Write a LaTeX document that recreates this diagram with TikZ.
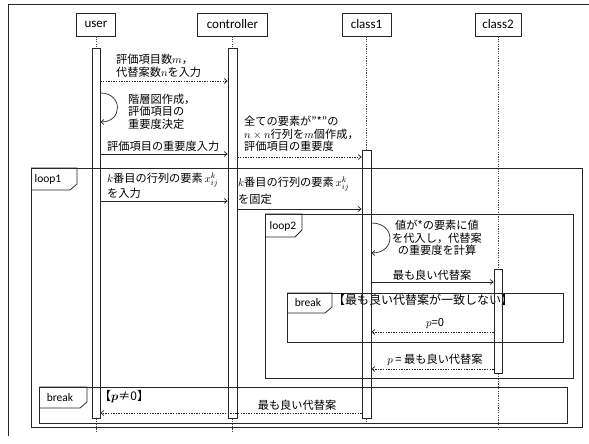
\documentclass[tikz,border=0pt]{standalone}
\usepackage{amsmath}
\usepackage{fontspec}
\setmainfont{Carlito}
\newfontfamily\jp{Noto Sans CJK JP}
\usetikzlibrary{arrows.meta}
\begin{document}
\begin{tikzpicture}[x=1pt,y=-1pt,
  frame/.style={draw=black!85, line width=0.8pt},
  head/.style={draw=black!85, line width=0.7pt, minimum height=23pt, inner sep=2pt, font=\fontsize{13}{14}\selectfont},
  life/.style={draw=black!75, line width=0.7pt, dash pattern=on 1.2pt off 1.2pt},
  bar/.style={draw=black!85, line width=0.7pt, inner sep=0pt},
  msg/.style={draw=black!85, line width=0.7pt, -{Straight Barb[length=3pt,width=5pt]}},
  ret/.style={msg, dash pattern=on 1.4pt off 1.2pt},
  jtext/.style={font=\jp\fontsize{11.2}{12.5}\selectfont, inner sep=0pt, align=left},
  tag/.style={font=\fontsize{11.5}{12}\selectfont, inner sep=0pt},
  guard/.style={font=\jp\fontsize{12}{14}\selectfont, inner sep=0pt},
]
\useasboundingbox (0,0) rectangle (589,444);
% page border
\draw[frame] (8,436) -- (8,4) -- (589,4);

% combined fragments
\draw[frame] (31,168) rectangle (582,427);
\draw[frame] (31,168) -- (77,168) -- (77,184) -- (70,190) -- (31,190);
\node[tag] (l1) at (48,179) {loop1};

\draw[frame] (265,214) rectangle (573,378);
\draw[frame] (265,214) -- (302,214) -- (302,230) -- (295,237) -- (265,237);
\node[tag] (l2) at (283,226) {loop2};

\draw[frame] (287,293) rectangle (563,342);
\draw[frame] (287,293) -- (332,293) -- (332,307) -- (325,313) -- (287,313);
\node[tag] (b1) at (308,303) {break};
\node[guard, anchor=west] (g1) at (333,300) {【最も良い代替案が一致しない】};

\draw[frame] (39,387) rectangle (567,423);
\draw[frame] (39,387) -- (87,387) -- (87,402) -- (80,408) -- (39,408);
\node[tag] (b2) at (60,398) {break};
\node[guard, anchor=west] (g2) at (99,397) {【$\boldsymbol{p}$≠0】};

% lifeline heads
\node[head, minimum width=39pt] (user) at (96,24.5) {user};
\node[head, minimum width=70pt] (ctrl) at (232.5,24.5) {controller};
\node[head, minimum width=49pt] (c1) at (366.5,24.5) {class1};
\node[head, minimum width=46pt] (c2) at (498,24.5) {class2};

% activation bars
\node[bar, minimum width=8pt, minimum height=370pt, anchor=north] (ub) at (96,48) {};
\node[bar, minimum width=9pt, minimum height=370pt, anchor=north] (cb) at (232.5,48) {};
\node[bar, minimum width=9pt, minimum height=268pt, anchor=north] (c1b) at (366.5,150) {};
\node[bar, minimum width=8pt, minimum height=104pt, anchor=north] (c2b) at (498,269) {};

\coordinate (uend) at (96,431);
\coordinate (cend) at (232.5,431);
\coordinate (c1end) at (366.5,423);
\coordinate (c2end) at (498,431);

\draw[life] (user.south) -- (ub.north);
\draw[life] (ub.south) -- (uend);
\draw[life] (ctrl.south) -- (cb.north);
\draw[life] (cb.south) -- (cend);
\draw[life] (c1.south) -- (c1b.north);
\draw[life] (c1b.south) -- (c1end);
\draw[life] (c2.south) -- (c2b.north);
\draw[life] (c2b.south) -- (c2end);

% messages
\node[jtext, anchor=west] (t1) at (116,66) {評価項目数$m$，\\代替案数$n$を入力};
\draw[ret] (ub.east |- 0,81) -- (cb.west |- 0,81);

\node[jtext, anchor=west] (t2) at (128,111.5) {階層図作成，\\評価項目の\\重要度決定};
\draw[msg] (ub.east |- 0,93) .. controls (123,93) and (123,122) .. (ub.east |- 0,122);

\node[jtext, anchor=west] (t3) at (107,146) {評価項目の重要度入力};
\draw[msg] (ub.east |- 0,154) -- (cb.west |- 0,154);

\node[jtext, anchor=west] (t4) at (244,134) {全ての要素が”*”の\\$n\times n$行列を$m$個作成，\\評価項目の重要度};
\draw[ret] (cb.east |- 0,157) -- (c1b.west |- 0,157);

\node[jtext, anchor=west] (t5) at (107,186) {$k$番目の行列の要素\,$x^{k}_{ij}$\\を入力};
\draw[msg] (ub.east |- 0,201) -- (cb.west |- 0,201);

\node[jtext, anchor=west] (t6) at (238,191) {$k$番目の行列の要素\,$x^{k}_{ij}$\\[2pt]を固定};
\draw[msg] (cb.east |- 0,209) -- (c1b.west |- 0,209);

\node[jtext, align=center] (t7) at (437,238) {値が*の要素に値\\を代入し，代替案\\の重要度を計算};
\draw[msg] (c1b.east |- 0,223) .. controls (396,223) and (396,253) .. (c1b.east |- 0,253);

\node[jtext] (t8) at (432,275) {最も良い代替案};
\draw[msg] (c1b.east |- 0,282) -- (c2b.west |- 0,282);

\node[jtext] (t9) at (435,323) {$p$=0};
\draw[ret] (c2b.west |- 0,332) -- (c1b.east |- 0,332);

\node[jtext] (t10) at (435,360) {$p$ = 最も良い代替案};
\draw[ret] (c2b.west |- 0,369) -- (c1b.east |- 0,369);

\node[jtext] (t11) at (297,405) {最も良い代替案};
\draw[ret] (c1b.west |- 0,413) -- (ub.east |- 0,413);
\end{tikzpicture}
\end{document}
